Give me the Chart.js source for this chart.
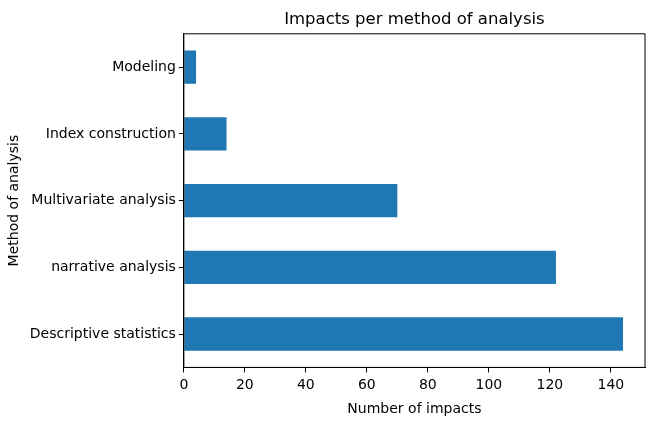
<!DOCTYPE html>
<html>
<head>
<meta charset="utf-8">
<script src="https://cdn.jsdelivr.net/npm/chart.js@4"></script>
<style>
  html, body { margin: 0; padding: 0; background: #fff; }
  #wrap { width: 655px; height: 427px; }
</style>
</head>
<body>
<div id="wrap"><canvas id="chart"></canvas></div>
<script>
// Data
const methods = ["Modeling", "Index construction", "Multivariate analysis", "narrative analysis", "Descriptive statistics"];
const impacts = [4, 14, 70, 122, 144];

// draw the full box round the plot, like matplotlib's spines
const boxPlugin = {
    id: "box",
    afterDraw(chart) {
        const { ctx, chartArea: a } = chart;
        ctx.save();
        ctx.strokeStyle = "#000";
        ctx.lineWidth = 1;
        ctx.strokeRect(a.left, a.top, a.right - a.left, a.bottom - a.top);
        ctx.restore();
    }
};

Chart.defaults.font.family = "'DejaVu Sans', sans-serif";
Chart.defaults.color = "#000";

new Chart("chart", {
    type: "bar",
    data: {
        labels: methods,
        datasets: [{
            data: impacts,
            backgroundColor: "#1f77b4",
            categoryPercentage: 1,
            barPercentage: 0.5,
        }],
    },
    options: {
        indexAxis: "y",
        responsive: true,
        maintainAspectRatio: false,
        animation: false,
        layout: { padding: { left: 2, right: 10, top: 0, bottom: 5 } },
        plugins: {
            legend: { display: false },
            tooltip: { enabled: false },
            title: {
                display: true,
                fullSize: false,
                text: "Impacts per method of analysis",
                font: { size: 16.5, weight: "normal" },
                color: "#000",
                padding: { top: 10, bottom: 4 },
            },
        },
        scales: {
            x: {
                min: 0,
                max: 151.2,
                ticks: { stepSize: 20, includeBounds: false, font: { size: 14 }, padding: 5 },
                grid: { drawOnChartArea: false, tickLength: 5, color: "#000" },
                border: { color: "#000" },
                title: { display: true, text: "Number of impacts", font: { size: 14 }, padding: { top: 2 } },
            },
            y: {
                ticks: { font: { size: 14 }, padding: 3 },
                grid: { drawOnChartArea: false, tickLength: 5, color: "#000", offset: false },
                border: { color: "#000" },
                title: { display: true, text: "Method of analysis", font: { size: 14 }, padding: { bottom: 4 } },
            },
        },
    },
    plugins: [boxPlugin],
});
</script>
</body>
</html>
